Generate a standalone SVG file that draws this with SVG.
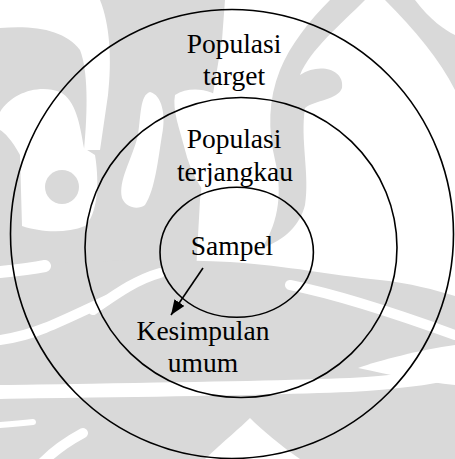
<svg xmlns="http://www.w3.org/2000/svg" width="455" height="459" viewBox="0 0 455 459">
<style>
.wm{fill:#d9d9d9;stroke:none}
.wh{fill:#ffffff;stroke:none}
.ws{fill:none;stroke:#ffffff;stroke-linecap:round}
.ring{fill:none;stroke:#000;stroke-width:1.6}
.lbl{font-family:"Liberation Serif","Times New Roman",serif;font-size:27.5px;fill:#000;text-anchor:middle}
.conn{stroke:#000;stroke-width:1.6;fill:none}
</style>
<defs>
<marker id="ah" markerUnits="userSpaceOnUse" markerWidth="16" markerHeight="14" refX="15" refY="6" orient="auto">
<path d="M0,0 L15,6 L0,12 Z" fill="#000"/>
</marker>
</defs>
<rect width="455" height="459" fill="#ffffff"/>
<g id="watermark">
<path class="wm" d="M0,0 H225 L222,40 L212,100 L200,200 L195,290 H0 Z"/>
<path class="wh" d="M0,0 H100 C110,25 112,60 108,95 L100,150 L84,150 C88,110 88,70 80,50 C65,30 35,25 0,28 Z"/>
<path class="wh" d="M0,112 C12,92 40,84 60,92 C76,100 80,125 84,148 L95,155 C100,185 97,215 85,226 C65,234 40,232 22,226 L20,155 C12,140 4,132 0,130 Z"/>
<circle class="wm" cx="62" cy="187" r="17"/>
<path class="wh" d="M150,92 C162,95 166,115 162,135 C158,160 155,190 145,205 C138,210 126,208 122,198 C118,180 132,160 138,135 C141,115 140,95 150,92 Z"/>
<path class="wh" d="M175,95 C190,85 215,90 222,100 L212,200 C200,190 190,170 185,150 C180,130 172,110 175,95 Z"/>
<path class="wm" d="M330,0 H365 C340,25 310,50 300,75 C320,62 345,70 342,88 C338,100 315,100 305,108 C300,140 310,175 305,205 C300,225 285,240 262,248 C280,220 282,190 275,160 C268,130 268,100 280,70 C290,45 310,20 330,0 Z"/>
<path class="wm" d="M385,0 H415 C430,20 445,30 455,35 V90 C440,60 415,30 385,0 Z"/>
<path class="wm" d="M0,265 C80,262 150,258 230,262 C290,266 330,275 380,280 C410,283 435,290 455,296 V459 H0 Z"/>
<path class="ws" stroke-width="12" d="M0,272 C20,270 35,268 45,266"/>
<path class="ws" stroke-width="10" d="M93,310 C115,295 135,280 160,273"/>
<path class="ws" stroke-width="10" d="M0,340 C15,338 30,334 45,328 C65,320 85,310 107,300"/>
<path class="ws" stroke-width="14" d="M0,392 C120,390 250,389 350,385 C400,382 430,378 455,372"/>
<path class="ws" stroke-width="6" d="M0,425 C15,424 25,423 33,422"/>
<path class="ws" stroke-width="10" d="M43,462 C55,450 70,440 83,433"/>
<path class="ws" stroke-width="10" d="M290,285 C340,295 400,315 455,335"/>
<path class="wh" d="M455,345 C420,350 380,360 358,368 C390,375 425,382 455,385 Z"/>
<path class="wh" d="M205,459 C225,440 240,428 250,418 C262,430 280,445 300,459 Z"/>
</g>
<g id="outer">
<ellipse class="ring" cx="232" cy="234" rx="221.5" ry="224.5"/>
<text class="lbl" x="234" y="53">Populasi</text>
<text class="lbl" x="234" y="85">target</text>
</g>
<g id="middle">
<ellipse class="ring" cx="241" cy="247.5" rx="156" ry="150"/>
<text class="lbl" x="234" y="148">Populasi</text>
<text class="lbl" x="235" y="181">terjangkau</text>
</g>
<g id="inner">
<ellipse class="ring" cx="236.7" cy="252.3" rx="76.7" ry="65"/>
<text class="lbl" x="232" y="255">Sampel</text>
</g>
<g id="conclusion">
<text class="lbl" x="203" y="340">Kesimpulan</text>
<text class="lbl" x="203" y="372">umum</text>
</g>
<g id="connectors">
<line class="conn" x1="203" y1="268" x2="171" y2="315" marker-end="url(#ah)"/>
</g>
</svg>
